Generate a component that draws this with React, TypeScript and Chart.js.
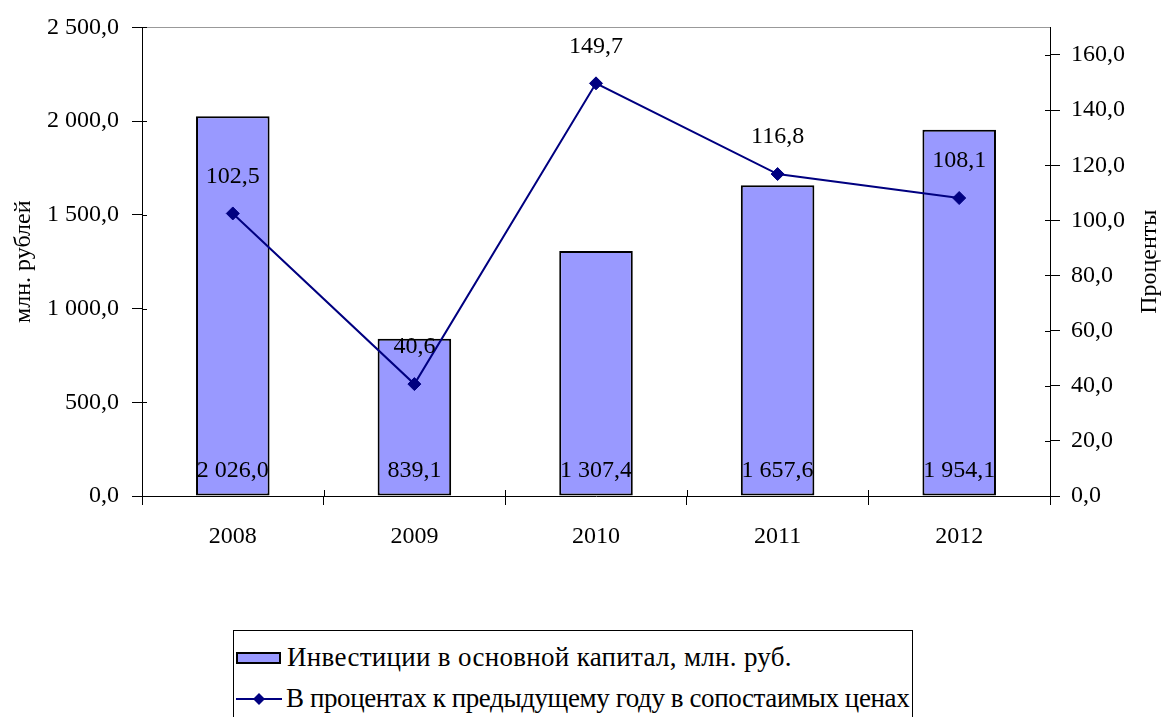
import React, { useEffect, useRef } from 'react';
import { Chart, registerables } from 'chart.js';

Chart.register(...registerables);

const years = ['2008', '2009', '2010', '2011', '2012'];
const investments = [2026.0, 839.1, 1307.4, 1657.6, 1954.1];
const percentPrevYear = [102.5, 40.6, 149.7, 116.8, 108.1];

const leftAxisMin = 0;
const leftAxisMax = 2500;
const leftAxisStep = 500;
const rightAxisMin = 0;
const rightAxisMax = 170;
const rightAxisStep = 20;
const rightTickLast = 160;

const leftTitle = 'млн. рублей';
const rightTitle = 'Проценты';
const barLabel = 'Инвестиции в основной капитал, млн. руб.';
const lineLabel = 'В процентах к предыдущему году в сопостаимых ценах';

const FONT = "'Liberation Serif', 'Times New Roman', serif";
const BAR_COLOR = '#9999FF';
const LINE_COLOR = '#000080';

function fmt(v: number): string {
  const [i, d] = Number(v).toFixed(1).split('.');
  const ii = i.replace(/\B(?=(\d{3})+(?!\d))/g, ' ');
  return ii + ',' + d;
}

const decorPlugin = {
  id: 'decor',
  beforeDatasetsDraw(chart: any) {
    const { ctx, chartArea: ca } = chart;
    ctx.save();
    ctx.strokeStyle = '#999999';
    ctx.lineWidth = 1;
    ctx.beginPath();
    ctx.moveTo(ca.left, Math.round(ca.top) + 0.5);
    ctx.lineTo(ca.right, Math.round(ca.top) + 0.5);
    ctx.stroke();
    ctx.restore();
  },
  afterDraw(chart: any) {
    const { ctx, chartArea: ca, scales } = chart;
    ctx.save();
    ctx.strokeStyle = '#000';
    ctx.lineWidth = 1;
    ctx.beginPath();
    scales.y.ticks.forEach((t: any) => {
      const py = Math.round(scales.y.getPixelForValue(t.value)) + 0.5;
      ctx.moveTo(ca.left, py);
      ctx.lineTo(ca.left + 5, py);
    });
    scales.y1.ticks.forEach((t: any) => {
      const py = Math.round(scales.y1.getPixelForValue(t.value)) + 0.5;
      ctx.moveTo(ca.right - 5, py);
      ctx.lineTo(ca.right, py);
    });
    for (let i = 0; i <= years.length; i++) {
      const px = Math.round(scales.x.getPixelForValue(i - 0.5)) + 0.5;
      ctx.moveTo(px, ca.bottom - 6);
      ctx.lineTo(px, ca.bottom);
    }
    ctx.stroke();

    ctx.fillStyle = '#000';
    ctx.font = `24px ${FONT}`;
    ctx.textAlign = 'center';
    ctx.textBaseline = 'middle';
    const cy = (ca.top + ca.bottom) / 2;
    ctx.save();
    ctx.translate(scales.y.left + 24, cy);
    ctx.rotate(-Math.PI / 2);
    ctx.fillText(leftTitle, 0, 0);
    ctx.restore();
    ctx.save();
    ctx.translate(scales.y1.right - 15, cy);
    ctx.rotate(-Math.PI / 2);
    ctx.fillText(rightTitle, 0, 0);
    ctx.restore();
    ctx.restore();
  },
  afterDatasetsDraw(chart: any) {
    const { ctx } = chart;
    ctx.save();
    ctx.fillStyle = '#000';
    ctx.font = `24px ${FONT}`;
    ctx.textAlign = 'center';
    ctx.textBaseline = 'middle';
    const barMeta = chart.getDatasetMeta(1);
    barMeta.data.forEach((el: any, i: number) => {
      ctx.fillText(fmt(investments[i]), el.x, el.base - 25);
    });
    const lineMeta = chart.getDatasetMeta(0);
    lineMeta.data.forEach((el: any, i: number) => {
      ctx.fillText(fmt(percentPrevYear[i]), el.x, el.y - 37);
    });
    ctx.restore();
  },
};

export default function App() {
  const ref = useRef<HTMLCanvasElement>(null);

  useEffect(() => {
    if (!ref.current) return;
    const tickFont = { family: FONT, size: 24 };
    const chart = new Chart(ref.current, {
      data: {
        labels: years,
        datasets: [
          {
            type: 'line',
            label: lineLabel,
            data: percentPrevYear,
            yAxisID: 'y1',
            borderColor: LINE_COLOR,
            backgroundColor: LINE_COLOR,
            borderWidth: 2,
            pointStyle: 'rectRot',
            pointRadius: 6.5,
            pointBorderWidth: 1,
            pointBackgroundColor: LINE_COLOR,
            pointBorderColor: LINE_COLOR,
            tension: 0,
            order: 1,
          } as any,
          {
            type: 'bar',
            label: barLabel,
            data: investments,
            yAxisID: 'y',
            backgroundColor: BAR_COLOR,
            borderColor: '#000',
            borderWidth: 2,
            borderSkipped: false,
            barPercentage: 0.405,
            categoryPercentage: 1,
            order: 2,
          } as any,
        ],
      },
      options: {
        animation: false,
        responsive: false,
        layout: { padding: { top: 25, left: 0, right: 0, bottom: 0 } },
        plugins: {
          legend: { display: false },
          tooltip: { enabled: false },
          title: { display: false },
        },
        scales: {
          x: {
            offset: true,
            grid: {
              display: true,
              offset: true,
              drawOnChartArea: false,
              drawTicks: true,
              tickLength: 9,
              color: '#000',
              lineWidth: 1,
            },
            border: { display: true, color: '#000', width: 1 },
            ticks: { font: tickFont, color: '#000', padding: 17, maxRotation: 0 },
            afterFit: (s: any) => {
              s.height = 104;
            },
          },
          y: {
            position: 'left',
            min: leftAxisMin,
            max: leftAxisMax,
            grid: { drawOnChartArea: false, drawTicks: true, tickLength: 10, color: '#000' },
            border: { display: true, color: '#000', width: 1 },
            ticks: {
              stepSize: leftAxisStep,
              font: tickFont,
              color: '#000',
              padding: 13,
              callback: (v: any) => fmt(Number(v)),
            },
            afterFit: (s: any) => {
              s.width = 142;
            },
          },
          y1: {
            position: 'right',
            min: rightAxisMin,
            max: rightAxisMax,
            grid: { drawOnChartArea: false, drawTicks: true, tickLength: 10, color: '#000' },
            border: { display: true, color: '#000', width: 1 },
            ticks: {
              stepSize: rightAxisStep,
              font: tickFont,
              color: '#000',
              padding: 11,
              callback: (v: any) => fmt(Number(v)),
            },
            afterBuildTicks: (s: any) => {
              s.ticks = s.ticks.filter((t: any) => t.value <= rightTickLast);
            },
            afterFit: (s: any) => {
              s.width = 115;
            },
          },
        },
      } as any,
      plugins: [decorPlugin],
    });
    return () => chart.destroy();
  }, []);

  const legendText: React.CSSProperties = {
    fontFamily: FONT,
    fontSize: 27,
    color: '#000',
    marginLeft: 6,
    whiteSpace: 'nowrap',
    lineHeight: 1,
  };

  return (
    <div
      style={{
        position: 'fixed',
        left: 0,
        top: 0,
        width: 1165,
        height: 717,
        overflow: 'hidden',
        background: '#fff',
      }}
    >
      <canvas ref={ref} width={1165} height={600} style={{ display: 'block', width: 1165, height: 600 }} />
      <div
        style={{
          position: 'absolute',
          left: 233,
          top: 630,
          width: 680,
          height: 120,
          border: '1px solid #000',
          boxSizing: 'border-box',
          paddingTop: 6,
          paddingLeft: 2,
        }}
      >
        <div style={{ display: 'flex', alignItems: 'center', height: 41 }}>
          <div
            style={{
              width: 45,
              height: 12,
              background: BAR_COLOR,
              border: '2px solid #000',
              boxSizing: 'border-box',
            }}
          />
          <span style={{ ...legendText, letterSpacing: 0.3 }}>{barLabel}</span>
        </div>
        <div style={{ display: 'flex', alignItems: 'center', height: 41 }}>
          <svg width={46} height={16} style={{ display: 'block' }}>
            <line x1={0} y1={8} x2={46} y2={8} stroke={LINE_COLOR} strokeWidth={2} />
            <polygon points="23,2 29,8 23,14 17,8" fill={LINE_COLOR} />
          </svg>
          <span style={{ ...legendText, marginLeft: 4, letterSpacing: -0.4 }}>{lineLabel}</span>
        </div>
      </div>
    </div>
  );
}
